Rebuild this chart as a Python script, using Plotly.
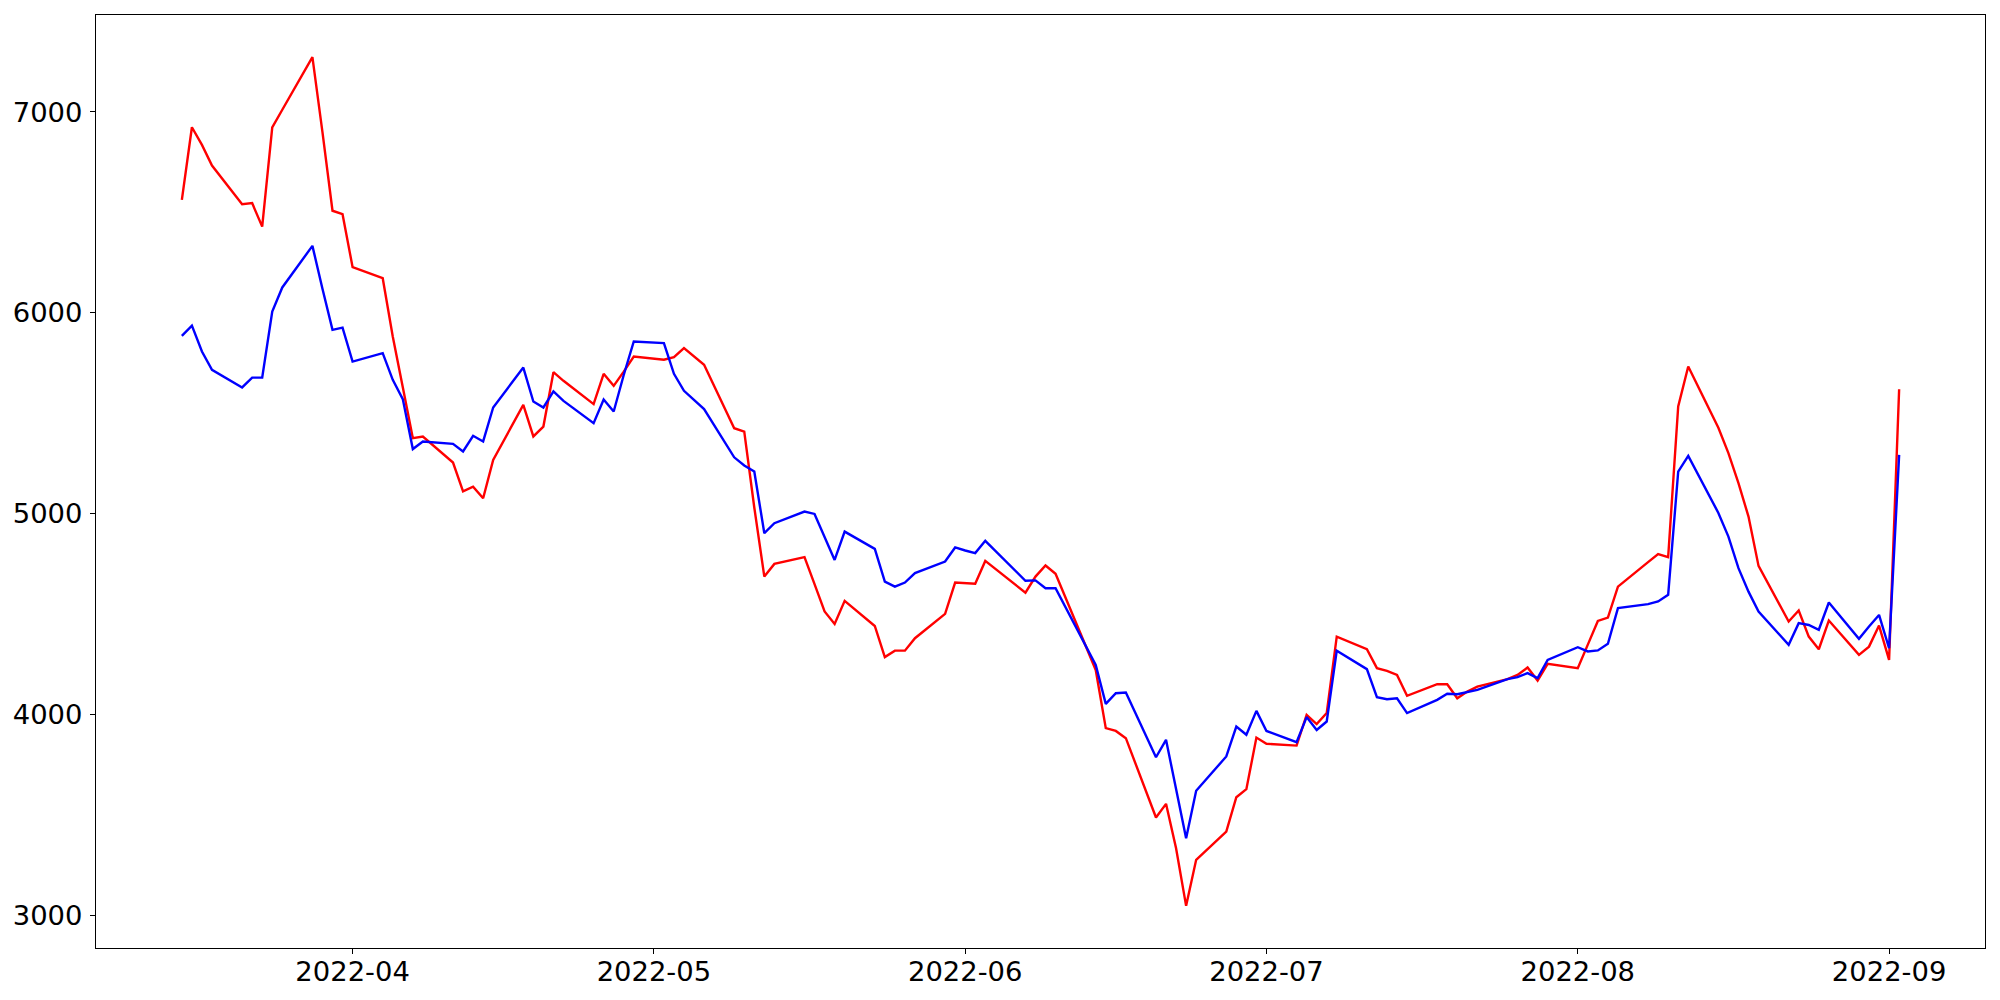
import plotly.graph_objects as go

# Trading dates (weekdays) 2022-03-15 .. 2022-09-02
dates = [
    "2022-03-15", "2022-03-16", "2022-03-17", "2022-03-18",
    "2022-03-21", "2022-03-22", "2022-03-23", "2022-03-24", "2022-03-25",
    "2022-03-28", "2022-03-29", "2022-03-30", "2022-03-31", "2022-04-01",
    "2022-04-04", "2022-04-05", "2022-04-06", "2022-04-07", "2022-04-08",
    "2022-04-11", "2022-04-12", "2022-04-13", "2022-04-14", "2022-04-15",
    "2022-04-18", "2022-04-19", "2022-04-20", "2022-04-21", "2022-04-22",
    "2022-04-25", "2022-04-26", "2022-04-27", "2022-04-28", "2022-04-29",
    "2022-05-02", "2022-05-03", "2022-05-04", "2022-05-05", "2022-05-06",
    "2022-05-09", "2022-05-10", "2022-05-11", "2022-05-12", "2022-05-13",
    "2022-05-16", "2022-05-17", "2022-05-18", "2022-05-19", "2022-05-20",
    "2022-05-23", "2022-05-24", "2022-05-25", "2022-05-26", "2022-05-27",
    "2022-05-30", "2022-05-31", "2022-06-01", "2022-06-02", "2022-06-03",
    "2022-06-06", "2022-06-07", "2022-06-08", "2022-06-09", "2022-06-10",
    "2022-06-13", "2022-06-14", "2022-06-15", "2022-06-16", "2022-06-17",
    "2022-06-20", "2022-06-21", "2022-06-22", "2022-06-23", "2022-06-24",
    "2022-06-27", "2022-06-28", "2022-06-29", "2022-06-30", "2022-07-01",
    "2022-07-04", "2022-07-05", "2022-07-06", "2022-07-07", "2022-07-08",
    "2022-07-11", "2022-07-12", "2022-07-13", "2022-07-14", "2022-07-15",
    "2022-07-18", "2022-07-19", "2022-07-20", "2022-07-21", "2022-07-22",
    "2022-07-25", "2022-07-26", "2022-07-27", "2022-07-28", "2022-07-29",
    "2022-08-01", "2022-08-02", "2022-08-03", "2022-08-04", "2022-08-05",
    "2022-08-08", "2022-08-09", "2022-08-10", "2022-08-11", "2022-08-12",
    "2022-08-15", "2022-08-16", "2022-08-17", "2022-08-18", "2022-08-19",
    "2022-08-22", "2022-08-23", "2022-08-24", "2022-08-25", "2022-08-26",
    "2022-08-29", "2022-08-30", "2022-08-31", "2022-09-01", "2022-09-02",
]

red_values = [
    6562, 6924, 6836, 6733, 6541, 6546, 6429, 6923, 7011, 7273, 6900, 6508, 6491,
    6227, 6172, 5882, 5629, 5375, 5383, 5254, 5110, 5134, 5076, 5267, 5541, 5384,
    5433, 5704, 5661, 5545, 5696, 5636, 5707, 5782,
    5766, 5779, 5824, 5782, 5741, 5425, 5408, 5030, 4686, 4749, 4783, 4648, 4512,
    4450, 4565, 4440, 4285, 4317, 4317, 4379, 4500, 4656,
    4652, 4650, 4764, 4646, 4606, 4686, 4741, 4700, 4339, 4221, 3931, 3917, 3881,
    3486, 3554, 3333, 3046, 3275, 3416, 3587, 3627, 3884,
    3853, 3844, 3997, 3951, 4006, 4387, 4324, 4230, 4216, 4196, 4092, 4150, 4150,
    4080, 4113, 4138, 4175, 4196, 4233, 4168, 4251,
    4230, 4347, 4465, 4482, 4636, 4758, 4798, 4783, 5533, 5732, 5427, 5301, 5151,
    4985, 4739, 4462, 4517, 4387, 4324, 4467, 4296, 4337, 4442,
    4271, 5619,
]

blue_values = [
    5885, 5936, 5807, 5716, 5628, 5677, 5677, 6006, 6126, 6333, 6120, 5915, 5926,
    5757, 5799, 5666, 5570, 5321, 5359, 5347, 5309, 5387, 5359, 5528, 5727, 5558,
    5528, 5608, 5561, 5450, 5568, 5508, 5690, 5857,
    5849, 5696, 5611, 5566, 5520, 5280, 5239, 5209, 4902, 4952, 5010, 4998, 4884,
    4769, 4910, 4824, 4661, 4636, 4656, 4703, 4761, 4831,
    4816, 4803, 4864, 4714, 4665, 4667, 4628, 4628, 4341, 4246, 4052, 4105, 4108,
    3786, 3873, 3635, 3383, 3619, 3790, 3939, 3898, 4017,
    3917, 3861, 3986, 3922, 3964, 4317, 4225, 4085, 4075, 4080, 4006, 4072, 4102,
    4100, 4110, 4122, 4175, 4185, 4205, 4180, 4271,
    4334, 4313, 4318, 4351, 4529, 4549, 4562, 4595, 5209, 5287, 5003, 4885, 4728,
    4611, 4512, 4346, 4454, 4445, 4421, 4557, 4376, 4437, 4495,
    4329, 5292,
]

x_tick_vals = ["2022-04-01", "2022-05-01", "2022-06-01", "2022-07-01", "2022-08-01", "2022-09-01"]
x_tick_text = ["2022-04", "2022-05", "2022-06", "2022-07", "2022-08", "2022-09"]
y_tick_vals = [3000, 4000, 5000, 6000, 7000]
y_tick_text = ["3000", "4000", "5000", "6000", "7000"]

fig = go.Figure()
fig.add_trace(go.Scatter(x=dates, y=red_values, mode="lines",
                         line=dict(color="#ff0000", width=2.4), name="red"))
fig.add_trace(go.Scatter(x=dates, y=blue_values, mode="lines",
                         line=dict(color="#0000ff", width=2.4), name="blue"))

axis_common = dict(
    showgrid=False, zeroline=False, showline=True, linecolor="black", linewidth=1.1,
    mirror=True, ticks="outside", ticklen=5, tickwidth=1.1, tickcolor="black",
    tickfont=dict(family="DejaVu Sans", size=27.4, color="black"),
    automargin=False,
)

# the page body has an 8px default margin, so the figure is offset by 8px
fig.update_layout(
    width=1992, height=992,
    margin=dict(l=88, r=15, t=7, b=52, pad=0),
    plot_bgcolor="white", paper_bgcolor="white",
    showlegend=False,
    font=dict(family="DejaVu Sans", size=27.4, color="black"),
    xaxis=dict(type="date", range=["2022-03-06 10:48", "2022-09-10 13:12"],
               tickmode="array", tickvals=x_tick_vals, ticktext=x_tick_text,
               ticklabelstandoff=-6, **axis_common),
    yaxis=dict(range=[2836, 7483], tickmode="array", tickvals=y_tick_vals,
               ticktext=y_tick_text, ticklabelstandoff=2, **axis_common),
)

fig.write_html("out.html")
